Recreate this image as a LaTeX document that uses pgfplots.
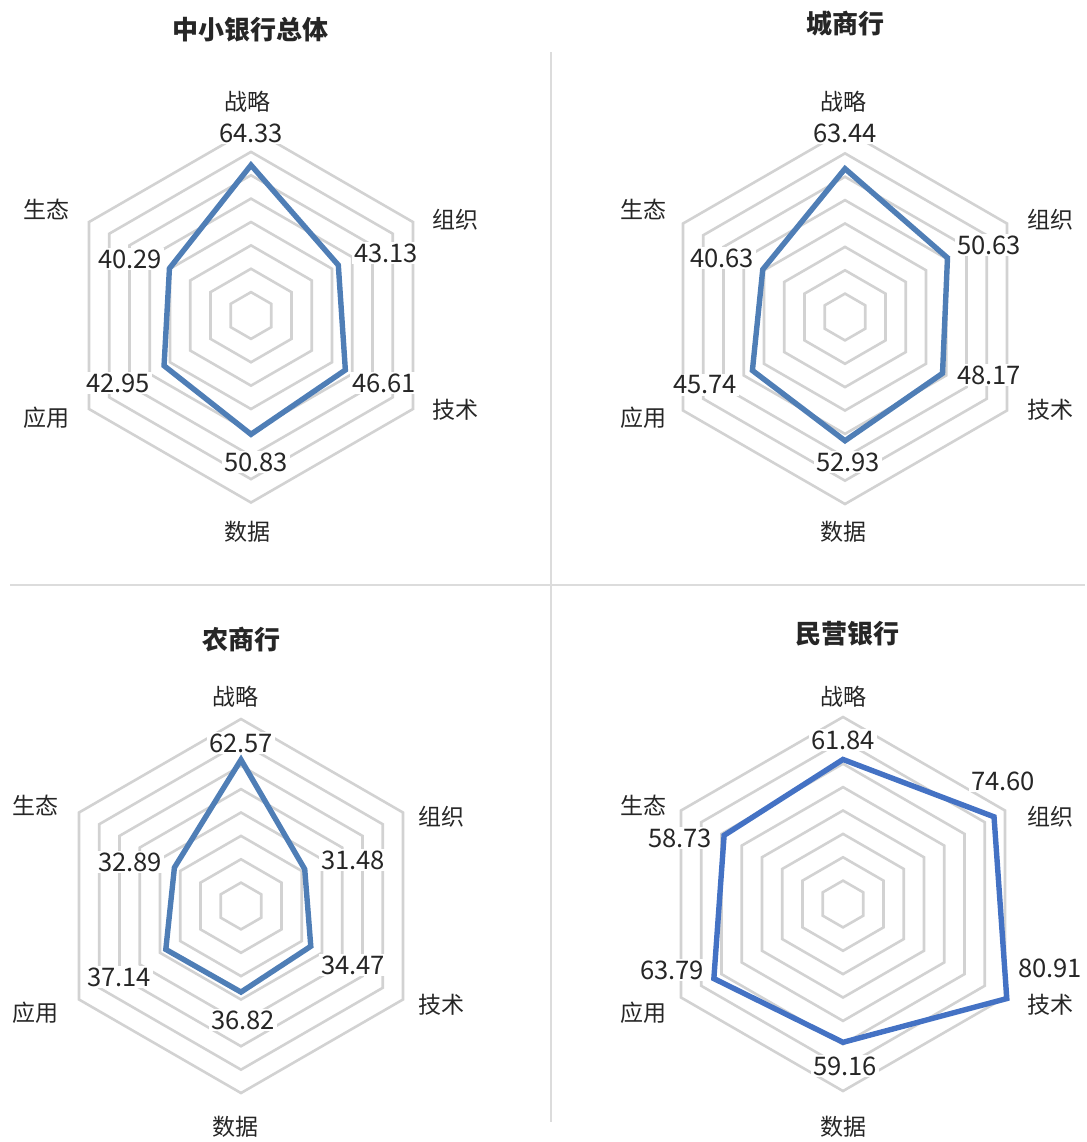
\documentclass[border=0pt]{standalone}
\usepackage{fontspec}
\setmainfont{Noto Sans CJK SC}
\usepackage{pgfplots}
\pgfplotsset{compat=1.18}
\usepgfplotslibrary{polar}
\definecolor{ring}{RGB}{210,210,210}
\definecolor{blueA}{RGB}{79,126,182}
\definecolor{blueB}{RGB}{68,114,196}
\definecolor{txt}{RGB}{38,38,38}
\definecolor{divider}{RGB}{220,220,220}

\pgfplotsset{radar/.style={scale only axis, width=187pt, height=187pt, hide axis,
  xmin=0, xmax=360, ymin=0, ymax=80, clip=false, anchor=center}}

\newcommand{\ring}[1]{\addplot[ring, line width=1.3pt, no markers, line join=miter] coordinates {(90,#1) (30,#1) (-30,#1) (-90,#1) (-150,#1) (150,#1) (90,#1) (30,#1)};}
\newcommand{\rings}{\ring{10}\ring{20}\ring{30}\ring{40}\ring{50}\ring{60}\ring{70}\ring{80}}

% angles: 战略 90, 组织 30, 技术 -30, 数据 -90, 应用 -150, 生态 150
\newcommand{\radar}[8]{%
\begin{polaraxis}[radar, at={({#1*0.5pt},{-#2*0.5pt})}]
\rings
\addplot[#3, line width=2.7pt, no markers, line join=miter] coordinates {(90,#4) (30,#5) (-30,#6) (-90,#7) (-150,#8) (150,\lastval) (90,#4) (30,#5)};
\end{polaraxis}}

\begin{document}
\begin{tikzpicture}
\useasboundingbox (0,0) rectangle (543.5pt,-571pt);

% 中小银行总体
\def\lastval{40.29}
\radar{251}{315.5}{blueA}{64.33}{43.13}{46.61}{50.83}{42.95}
% 城商行
\def\lastval{40.63}
\radar{845}{317}{blueA}{63.44}{50.63}{48.17}{52.93}{45.74}
% 农商行
\def\lastval{32.89}
\radar{241}{906}{blueA}{62.57}{31.48}{34.47}{36.82}{37.14}
% 民营银行
\def\lastval{58.73}
\radar{843}{904}{blueB}{61.84}{74.60}{80.91}{59.16}{63.79}

\begin{scope}[x=0.5pt, y=-0.5pt]
% dividers
\draw[divider, line width=0.6pt] (551,52) -- (551,1122);
\draw[divider, line width=0.6pt] (10,585) -- (1085,585);

\tikzset{ttl/.style={text=txt, font=\fontsize{13}{15}\selectfont\bfseries, inner sep=0pt},
  cat/.style={text=txt, font=\fontsize{11.5}{13}\selectfont, inner sep=0pt},
  val/.style={text=txt, font=\fontsize{12.8}{14}\selectfont, fill=white, inner sep=0.8pt}}

% titles
\node[ttl] at (250,30) {中小银行总体};
\node[ttl] at (845,24) {城商行};
\node[ttl] at (241,640) {农商行};
\node[ttl] at (847,634) {民营银行};

% chart 1
\node[cat] at (247,102) {战略};
\node[cat] at (455,220) {组织};
\node[cat] at (455,410) {技术};
\node[cat] at (247,532) {数据};
\node[cat] at (47,418) {应用};
\node[cat] at (47,209) {生态};
\node[val] at (251,133) {64.33};
\node[val] at (386,253) {43.13};
\node[val] at (384,383) {46.61};
\node[val] at (256,462) {50.83};
\node[val] at (118,383) {42.95};
\node[val] at (130,259) {40.29};

% chart 2
\node[cat] at (843,102) {战略};
\node[cat] at (1050,220) {组织};
\node[cat] at (1050,410) {技术};
\node[cat] at (843,532) {数据};
\node[cat] at (643,418) {应用};
\node[cat] at (643,209) {生态};
\node[val] at (845,133) {63.44};
\node[val] at (989,245) {50.63};
\node[val] at (989,375) {48.17};
\node[val] at (848,462) {52.93};
\node[val] at (705,385) {45.74};
\node[val] at (722,258) {40.63};

% chart 3
\node[cat] at (235,697) {战略};
\node[cat] at (441,817) {组织};
\node[cat] at (441,1005) {技术};
\node[cat] at (235,1127) {数据};
\node[cat] at (35,1013) {应用};
\node[cat] at (35,805) {生态};
\node[val] at (241,743) {62.57};
\node[val] at (353,860) {31.48};
\node[val] at (353,965) {34.47};
\node[val] at (243,1020) {36.82};
\node[val] at (119,977) {37.14};
\node[val] at (130,862) {32.89};

% chart 4
\node[cat] at (843,697) {战略};
\node[cat] at (1050,817) {组织};
\node[cat] at (1050,1005) {技术};
\node[cat] at (843,1127) {数据};
\node[cat] at (643,1013) {应用};
\node[cat] at (643,805) {生态};
\node[val] at (843,740) {61.84};
\node[val] at (1003,781) {74.60};
\node[val] at (1050,968) {80.91};
\node[val] at (845,1066) {59.16};
\node[val] at (672,970) {63.79};
\node[val] at (680,838) {58.73};
\end{scope}
\end{tikzpicture}
\end{document}
